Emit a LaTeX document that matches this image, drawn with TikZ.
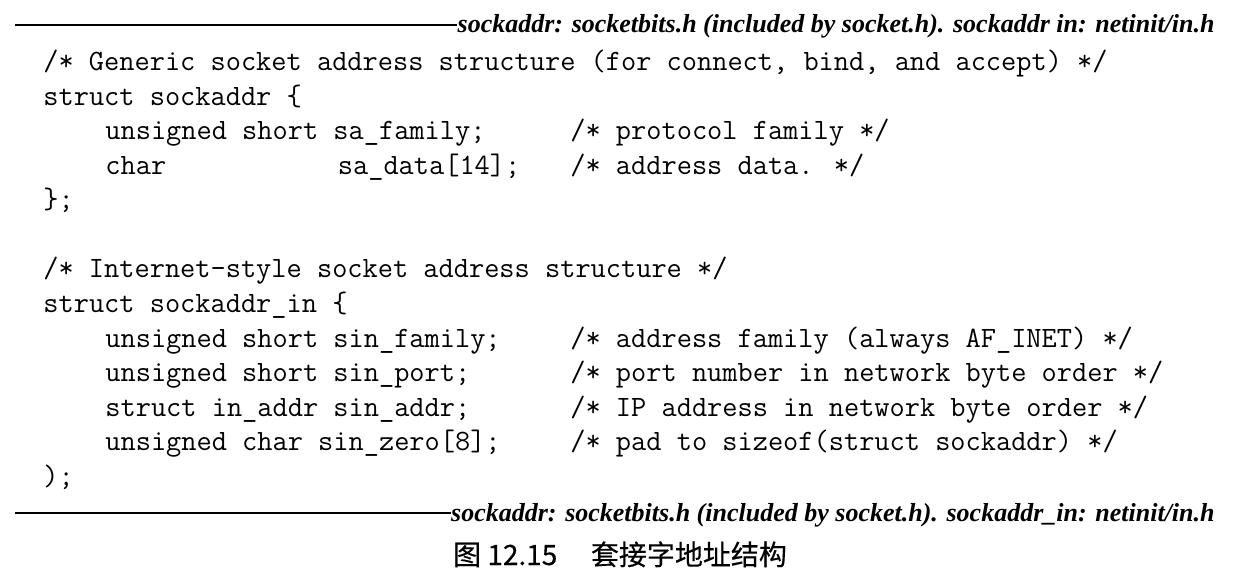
\documentclass[tikz,border=0pt]{standalone}
\usepackage{fontspec}
\newfontfamily\hdrfont{Liberation Serif}
\newfontfamily\cjkfont[FakeBold=0.3]{Noto Sans CJK SC}
\tikzset{
  code/.style={anchor=base west, inner sep=0pt, font=\fontsize{14.76}{17}\selectfont\ttfamily},
  hdr/.style={anchor=base east, inner sep=0pt, font=\fontsize{13}{15}\selectfont\hdrfont\bfseries\itshape},
  rulel/.style={line width=1pt, black},
  captext/.style={anchor=base, inner sep=0pt, font=\fontsize{14}{16}\selectfont\cjkfont}
}
\newcommand{\X}[1]{{43+15.5*(#1)}}
\newcommand{\Y}[1]{{71+34.5*(#1)}}
\begin{document}
\begin{tikzpicture}[x=0.5pt,y=-0.5pt]
\useasboundingbox (0,0) rectangle (1252,577);
% top header
\node[hdr] (htop) at (1215,33) {sockaddr: socketbits.h (included by socket.h). sockaddr in: netinit/in.h};
\coordinate (rtop) at (15,25);
\draw[rulel] (rtop) -- (rtop -| htop.west);
% code
\node[code] (l0) at (\X{0},\Y{0}) {/* Generic socket address structure (for connect, bind, and accept) */};
\node[code] (l1) at (\X{0},\Y{1}) {struct sockaddr \{};
\node[code] (l2a) at (\X{4},\Y{2}) {unsigned short sa\_family;};
\node[code] (l2b) at (\X{34},\Y{2}) {/* protocol family */};
\node[code] (l3a) at (\X{4},\Y{3}) {char};
\node[code] (l3b) at (\X{19},\Y{3}) {sa\_data[14];};
\node[code] (l3c) at (\X{34},\Y{3}) {/* address data. */};
\node[code] (l4) at (\X{0},\Y{4}) {\};};
\node[code] (l6) at (\X{0},\Y{6}) {/* Internet-style socket address structure */};
\node[code] (l7) at (\X{0},\Y{7}) {struct sockaddr\_in \{};
\node[code] (l8a) at (\X{4},\Y{8}) {unsigned short sin\_family;};
\node[code] (l8b) at (\X{34},\Y{8}) {/* address family (always AF\_INET) */};
\node[code] (l9a) at (\X{4},\Y{9}) {unsigned short sin\_port;};
\node[code] (l9b) at (\X{34},\Y{9}) {/* port number in network byte order */};
\node[code] (l10a) at (\X{4},\Y{10}) {struct in\_addr sin\_addr;};
\node[code] (l10b) at (\X{34},\Y{10}) {/* IP address in network byte order */};
\node[code] (l11a) at (\X{4},\Y{11}) {unsigned char sin\_zero[8];};
\node[code] (l11b) at (\X{34},\Y{11}) {/* pad to sizeof(struct sockaddr) */};
\node[code] (l12) at (\X{0},\Y{12}) {);};
% bottom header
\node[hdr] (hbot) at (1215,521) {sockaddr: socketbits.h (included by socket.h). sockaddr\_in: netinit/in.h};
\coordinate (rbot) at (15,513);
\draw[rulel] (rbot) -- (rbot -| hbot.west);
% caption
\node[captext] (capt) at (620,565) {图 12.15\hspace{1.2em}套接字地址结构};
\end{tikzpicture}
\end{document}
